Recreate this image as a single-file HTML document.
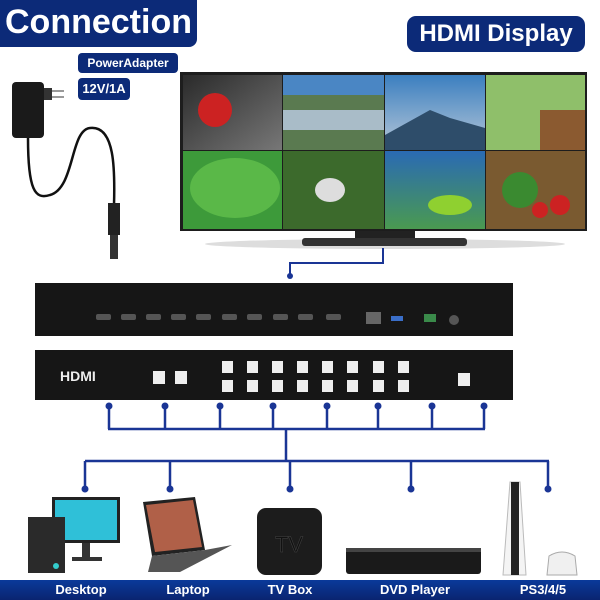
<!DOCTYPE html>
<html><head><meta charset="utf-8"><style>
body{margin:0;background:#fff;}
#c{position:relative;width:600px;height:600px;overflow:hidden;background:#fff;font-family:"Liberation Sans",sans-serif;}
.a{position:absolute;}
.lab{position:absolute;color:#fff;font-weight:bold;background:#0c2a78;border-radius:6px;text-align:center;}
</style></head><body><div id="c">
<svg class="a" style="left:0;top:0" width="600" height="600">
<defs>
<linearGradient id="g1" x1="0" y1="0" x2="1" y2="1"><stop offset="0" stop-color="#2a2a2a"/><stop offset="1" stop-color="#777"/></linearGradient>
<linearGradient id="g2" x1="0" y1="0" x2="0" y2="1"><stop offset="0" stop-color="#3b7fc0"/><stop offset="1" stop-color="#b8c8d8"/></linearGradient>
<linearGradient id="g3" x1="0" y1="0" x2="0" y2="1"><stop offset="0" stop-color="#2a6ab4"/><stop offset="1" stop-color="#4a9a50"/></linearGradient>
</defs>
<!-- power adapter -->
<rect x="12" y="82" width="32" height="56" rx="4" fill="#1a1a1a"/>
<rect x="44" y="88" width="8" height="12" fill="#333"/>
<rect x="52" y="90" width="12" height="2" fill="#999"/><rect x="52" y="96" width="12" height="2" fill="#999"/>
<path d="M28 138 C28 190 35 200 50 195 C75 188 70 130 90 128 C115 125 115 170 114 205" fill="none" stroke="#111" stroke-width="2.5"/>
<rect x="108" y="203" width="12" height="32" fill="#222"/>
<rect x="110" y="235" width="8" height="24" fill="#333"/>
<!-- monitor -->
<ellipse cx="385" cy="244" rx="180" ry="5" fill="#ddd"/>
<rect x="180" y="72" width="407" height="159" fill="#1d1d1d"/>
<rect x="183" y="75" width="99" height="75" fill="url(#g1)"/>
<circle cx="215" cy="110" r="17" fill="#c22"/>
<rect x="283" y="75" width="101" height="75" fill="#5a7a50"/>
<rect x="283" y="75" width="101" height="20" fill="#4a86c4"/>
<rect x="283" y="110" width="101" height="20" fill="#a9bcc8"/>
<rect x="385" y="75" width="100" height="75" fill="url(#g2)"/>
<path d="M385 135 L430 110 L450 118 L485 128 L485 150 L385 150Z" fill="#2e4d6a"/>
<rect x="486" y="75" width="99" height="75" fill="#8fbf6a"/>
<rect x="540" y="110" width="45" height="40" fill="#8b5a30"/>
<rect x="183" y="151" width="99" height="78" fill="#3d9a3a"/>
<ellipse cx="235" cy="188" rx="45" ry="30" fill="#5ab848"/>
<rect x="283" y="151" width="101" height="78" fill="#3c6a2c"/>
<ellipse cx="330" cy="190" rx="15" ry="12" fill="#ddd"/>
<rect x="385" y="151" width="100" height="78" fill="url(#g3)"/>
<ellipse cx="450" cy="205" rx="22" ry="10" fill="#8fd030"/>
<rect x="486" y="151" width="99" height="78" fill="#7a5a30"/>
<circle cx="520" cy="190" r="18" fill="#3a8a30"/><circle cx="540" cy="210" r="8" fill="#c22"/><circle cx="560" cy="205" r="10" fill="#c22"/>
<rect x="355" y="231" width="60" height="7" fill="#222"/>
<rect x="302" y="238" width="165" height="8" rx="3" fill="#333"/>
<!-- connector monitor to panel -->
<path d="M383 248 V263 H290 V276" fill="none" stroke="#1a3595" stroke-width="2"/>
<circle cx="290" cy="276" r="3" fill="#1a3595"/>
<!-- back panel -->
<rect x="35" y="283" width="478" height="53" fill="#161616"/>
<g fill="#555">
<rect x="96" y="314" width="15" height="6" rx="2"/><rect x="121" y="314" width="15" height="6" rx="2"/><rect x="146" y="314" width="15" height="6" rx="2"/><rect x="171" y="314" width="15" height="6" rx="2"/><rect x="196" y="314" width="15" height="6" rx="2"/><rect x="222" y="314" width="15" height="6" rx="2"/><rect x="247" y="314" width="15" height="6" rx="2"/><rect x="273" y="314" width="15" height="6" rx="2"/><rect x="298" y="314" width="15" height="6" rx="2"/><rect x="326" y="314" width="15" height="6" rx="2"/>
</g>
<rect x="366" y="312" width="15" height="12" fill="#666"/>
<rect x="391" y="316" width="12" height="5" fill="#3a6ec8"/>
<rect x="424" y="314" width="12" height="8" fill="#3a8a4a"/>
<circle cx="454" cy="320" r="5" fill="#555"/>
<!-- front panel -->
<rect x="35" y="350" width="478" height="50" fill="#161616"/>
<text x="60" y="381" fill="#eee" font-size="14" font-weight="bold" font-family="Liberation Sans">HDMI</text>
<g fill="#eee">
<rect x="153" y="371" width="12" height="13"/><rect x="175" y="371" width="12" height="13"/>
<rect x="222" y="361" width="11" height="12"/><rect x="247" y="361" width="11" height="12"/><rect x="272" y="361" width="11" height="12"/><rect x="297" y="361" width="11" height="12"/><rect x="322" y="361" width="11" height="12"/><rect x="347" y="361" width="11" height="12"/><rect x="373" y="361" width="11" height="12"/><rect x="398" y="361" width="11" height="12"/>
<rect x="222" y="380" width="11" height="12"/><rect x="247" y="380" width="11" height="12"/><rect x="272" y="380" width="11" height="12"/><rect x="297" y="380" width="11" height="12"/><rect x="322" y="380" width="11" height="12"/><rect x="347" y="380" width="11" height="12"/><rect x="373" y="380" width="11" height="12"/><rect x="398" y="380" width="11" height="12"/>
<rect x="458" y="373" width="12" height="13"/>
</g>
<!-- bus -->
<g fill="none" stroke="#1a3595" stroke-width="2.5">
<path d="M109 406 V429 M165 406 V429 M220 406 V429 M273 406 V429 M327 406 V429 M378 406 V429 M432 406 V429 M484 406 V429 M108 429 H485 M286 429 V461 M85 461 H549 M85 461 V489 M170 461 V489 M290 461 V489 M411 461 V489 M548 461 V489"/>
</g>
<g fill="#1a3595">
<circle cx="109" cy="406" r="3.5"/><circle cx="165" cy="406" r="3.5"/><circle cx="220" cy="406" r="3.5"/><circle cx="273" cy="406" r="3.5"/><circle cx="327" cy="406" r="3.5"/><circle cx="378" cy="406" r="3.5"/><circle cx="432" cy="406" r="3.5"/><circle cx="484" cy="406" r="3.5"/>
<circle cx="85" cy="489" r="3.5"/><circle cx="170" cy="489" r="3.5"/><circle cx="290" cy="489" r="3.5"/><circle cx="411" cy="489" r="3.5"/><circle cx="548" cy="489" r="3.5"/>
</g>
<!-- desktop -->
<rect x="52" y="497" width="68" height="46" fill="#222"/>
<rect x="55" y="500" width="62" height="40" fill="#2fc0d8"/>
<rect x="82" y="543" width="8" height="14" fill="#333"/><rect x="72" y="557" width="30" height="4" fill="#333"/>
<rect x="28" y="517" width="37" height="56" fill="#2a2a2a"/>
<circle cx="56" cy="566" r="3" fill="#3cc"/>
<!-- laptop -->
<path d="M143 502 L195 497 L205 550 L152 556Z" fill="#222"/>
<path d="M146 505 L193 500 L202 547 L155 552Z" fill="#b06048"/>
<path d="M152 556 L205 550 L232 545 L180 572 L148 572Z" fill="#555"/>
<!-- tv box -->
<rect x="257" y="508" width="65" height="67" rx="9" fill="#1c1c1c"/>
<text x="289" y="552" fill="#111" stroke="#444" stroke-width="0.5" font-size="22" text-anchor="middle" font-family="Liberation Sans">TV</text>
<!-- dvd -->
<rect x="346" y="548" width="135" height="26" rx="3" fill="#1a1a1a"/>
<rect x="346" y="548" width="135" height="4" fill="#444"/>
<!-- ps5 -->
<path d="M510 482 L520 482 L526 575 L503 575Z" fill="#f4f4f4" stroke="#bbb"/>
<rect x="511" y="482" width="8" height="93" fill="#222"/>
<path d="M549 556 Q562 548 575 556 L577 575 L547 575Z" fill="#f0f0f0" stroke="#aaa"/>
</svg>
<div class="lab" style="left:0;top:0;width:197px;height:47px;font-size:34px;line-height:45px;border-radius:0 0 8px 0;">Connection</div>
<div class="lab" style="left:407px;top:16px;width:178px;height:36px;font-size:24px;line-height:36px;border-radius:9px;">HDMI Display</div>
<div class="lab" style="left:78px;top:53px;width:100px;height:20px;font-size:12px;line-height:20px;border-radius:4px;">PowerAdapter</div>
<div class="lab" style="left:78px;top:78px;width:52px;height:22px;font-size:13px;line-height:22px;border-radius:4px;">12V/1A</div>
<div class="a" style="left:0;top:580px;width:600px;height:20px;background:linear-gradient(#0a3a9a,#0a2470);"></div>
<div class="a" style="top:580px;left:0;width:600px;height:20px;color:#fff;font-weight:bold;font-size:13px;line-height:20px;">
<span class="a" style="left:41px;width:80px;text-align:center">Desktop</span>
<span class="a" style="left:148px;width:80px;text-align:center">Laptop</span>
<span class="a" style="left:250px;width:80px;text-align:center">TV Box</span>
<span class="a" style="left:365px;width:100px;text-align:center">DVD Player</span>
<span class="a" style="left:503px;width:80px;text-align:center">PS3/4/5</span>
</div>
</div></body></html>
